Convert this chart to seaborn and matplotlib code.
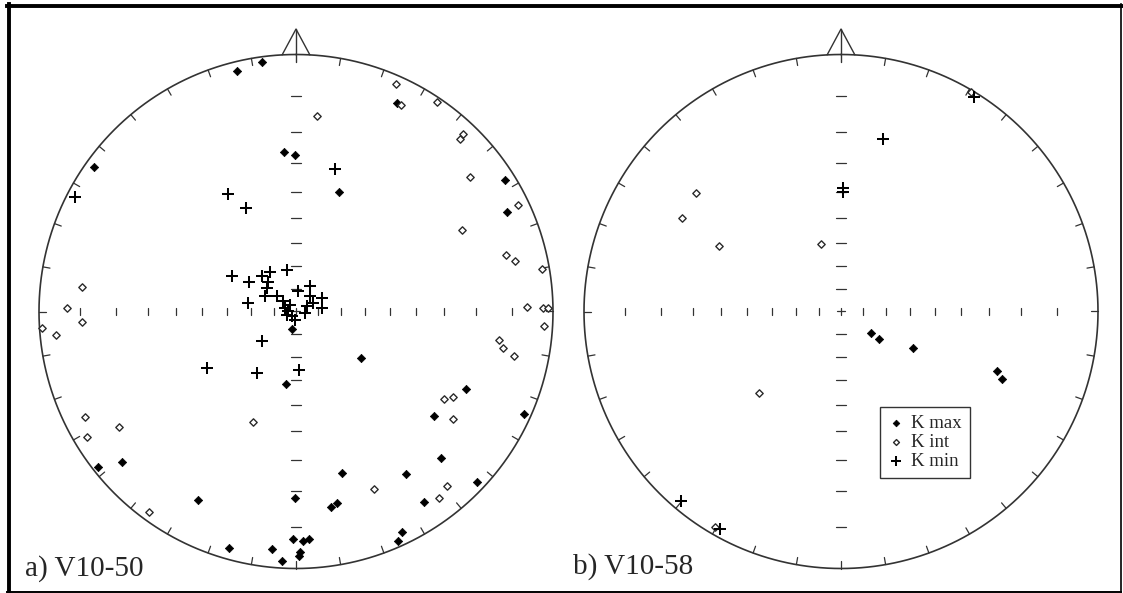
import numpy as np
import matplotlib
matplotlib.use("Agg")
import matplotlib.pyplot as plt
from matplotlib.lines import Line2D
import seaborn as sns

# ---------------- data: projected (east, north) positions on the unit primitive circle
# (equal-angle / stereographic lower-hemisphere projection)
# a) V10-50
kmax_a_east = [-0.133, -0.231, -0.786, -0.047, -0.004, 0.394, 0.168, 0.813, 0.820,
               -0.017, -0.039, -0.769, -0.678, -0.380, -0.002, -0.260, -0.092, -0.053,
               -0.011, 0.028, 0.052, 0.016, 0.013, 0.252, 0.661, 0.537, 0.887, 0.563,
               0.178, 0.427, 0.703, 0.135, 0.158, 0.499, 0.411, 0.398]
kmax_a_north = [0.970, 0.936, 0.561, 0.619, 0.609, 0.812, 0.464, 0.512, 0.388,
                -0.069, -0.282, -0.604, -0.584, -0.733, -0.726, -0.921, -0.925, -0.971,
                -0.885, -0.893, -0.886, -0.935, -0.950, -0.180, -0.303, -0.405, -0.399,
                -0.569, -0.627, -0.633, -0.665, -0.762, -0.746, -0.742, -0.857, -0.892]
kint_a_east = [0.389, 0.409, 0.547, 0.083, 0.637, 0.649, 0.677, 0.865, 0.645, 0.816,
               0.852, 0.958, 0.898, 0.962, 0.982, 0.965, 0.790, 0.807, 0.848, 0.576,
               0.612, 0.610, 0.304, 0.586, 0.556, -0.168, -0.572, -0.821, -0.688,
               -0.814, -0.892, -0.832, -0.987, -0.934, -0.834]
kint_a_north = [0.885, 0.804, 0.814, 0.761, 0.672, 0.691, 0.522, 0.416, 0.317, 0.220,
                0.198, 0.167, 0.016, 0.015, 0.015, -0.055, -0.111, -0.143, -0.173,
                -0.342, -0.334, -0.419, -0.692, -0.679, -0.727, -0.431, -0.781, -0.409,
                -0.451, -0.487, 0.012, -0.040, -0.065, -0.091, 0.094]
kmin_a_east = [-0.860, -0.266, -0.196, 0.152, -0.131, -0.347, -0.153, 0.013,
               -0.248, -0.183, -0.101, -0.131, -0.036, -0.108, -0.114, -0.121, -0.186,
               -0.075, -0.049, -0.043, -0.036, -0.017, -0.004, 0.009, 0.054, 0.054,
               0.042, 0.100, 0.100, 0.035, 0.067, -0.031, -0.023]
kmin_a_north = [0.447, 0.456, 0.404, 0.554, -0.115, -0.221, -0.240, -0.228,
                0.137, 0.115, 0.154, 0.137, 0.163, 0.115, 0.091, 0.059, 0.033,
                0.059, 0.040, 0.014, -0.012, -0.019, -0.032, 0.079, 0.098, 0.059,
                0.020, 0.053, 0.014, -0.006, 0.033, 0.002, 0.025]

# b) V10-58
kmax_b_east = [0.117, 0.146, 0.281, 0.607, 0.625]
kmax_b_north = [-0.085, -0.106, -0.143, -0.230, -0.264]
kint_b_east = [-0.565, -0.619, -0.475, -0.078, -0.321, 0.506, -0.490]
kint_b_north = [0.460, 0.365, 0.256, 0.263, -0.316, 0.854, -0.839]
kmin_b_east = [0.516, 0.164, 0.006, 0.006, -0.621, -0.469]
kmin_b_north = [0.833, 0.670, 0.481, 0.465, -0.736, -0.846]

panel_titles = ["a) V10-50", "b) V10-58"]
legend_labels = ["K max", "K int", "K min"]
tick_angles = list(range(10, 360, 10))   # circumference ticks, degrees
dip_ticks = list(range(10, 90, 10))      # diameter ticks, degrees from centre

# ---------------- styling
sns.set_style("white")
plt.rcParams["font.family"] = ["Liberation Serif", "DejaVu Serif"]

W, H = 1123, 593
fig = plt.figure(figsize=(W / 100, H / 100), dpi=100)
fig.patch.set_facecolor("white")

R = 257.0
centers = [(296.0, 311.5), (841.0, 311.5)]
XL = (-1.08, 1.08)
YL = (-1.07, 1.14)
GRID = "#333333"

panels = [
    (kmax_a_east, kmax_a_north, kint_a_east, kint_a_north, kmin_a_east, kmin_a_north),
    (kmax_b_east, kmax_b_north, kint_b_east, kint_b_north, kmin_b_east, kmin_b_north),
]

axes = []
for (cx, cy), data in zip(centers, panels):
    left = (cx + XL[0] * R) / W
    width = (XL[1] - XL[0]) * R / W
    bottom = (H - (cy - YL[0] * R)) / H
    height = (YL[1] - YL[0]) * R / H
    ax = fig.add_axes([left, bottom, width, height])
    ax.set_xlim(XL)
    ax.set_ylim(YL)
    ax.set_axis_off()
    axes.append(ax)

    # primitive circle
    t = np.linspace(0, 2 * np.pi, 721)
    ax.plot(np.sin(t), np.cos(t), color=GRID, lw=1.2, zorder=1)
    # circumference ticks
    for a in tick_angles:
        r = np.radians(a)
        ax.plot([np.sin(r), 0.972 * np.sin(r)], [np.cos(r), 0.972 * np.cos(r)],
                color=GRID, lw=0.9, zorder=1)
    # diameter ticks (equal-angle spacing)
    h = 0.015
    for d in dip_ticks:
        rr = np.tan(np.radians(d) / 2)
        for s in (-1, 1):
            ax.plot([s * rr, s * rr], [-h, h], color=GRID, lw=0.9, zorder=1)
            ax.plot([-h * 1.25, h * 1.25], [s * rr, s * rr], color=GRID, lw=0.9, zorder=1)
    ax.plot([-h, h], [0, 0], color=GRID, lw=0.9, zorder=1)
    ax.plot([0, 0], [-h, h], color=GRID, lw=0.9, zorder=1)
    # north arrow
    ax.plot([-0.054, 0, 0.054], [0.9985, 1.099, 0.9985], color=GRID, lw=1.0, zorder=1)
    ax.plot([0, 0], [1.099, 0.972], color=GRID, lw=1.0, zorder=1)

    kx, ky, ix, iy, nx, ny = data
    sns.scatterplot(x=kx, y=ky, marker="D", s=18, color="black", edgecolor="black",
                    linewidth=0.5, ax=ax, label=legend_labels[0], zorder=3)
    sns.scatterplot(x=ix, y=iy, marker="D", s=14, color="white", edgecolor="#2a2a2a",
                    linewidth=1.0, ax=ax, label=legend_labels[1], zorder=3)
    sns.scatterplot(x=nx, y=ny, marker="+", s=85, color="black", linewidth=1.45,
                    ax=ax, label=legend_labels[2], zorder=4)
    if ax.get_legend() is not None:
        ax.get_legend().remove()
    ax.set_xlim(XL)
    ax.set_ylim(YL)

# legend on panel b
handles, labels = axes[1].get_legend_handles_labels()
leg = axes[1].legend(handles, labels, loc="upper left",
                     bbox_to_anchor=(879.6 / W, 1 - 406.7 / H),
                     bbox_transform=fig.transFigure, borderaxespad=0,
                     frameon=True, fancybox=False, framealpha=1, edgecolor="#333333",
                     prop={"family": ["Liberation Serif"], "size": 13.5},
                     handlelength=0.9, handletextpad=0.3, borderpad=0.45,
                     labelspacing=0.08, markerscale=0.8)
leg.get_frame().set_linewidth(1.0)

# panel labels
fig.text(25 / W, 1 - 576 / H, panel_titles[0], fontsize=21, ha="left", va="baseline")
fig.text(572.6 / W, 1 - 574 / H, panel_titles[1], fontsize=21, ha="left", va="baseline")

# outer frame
def px_line(x0, y0, x1, y1, lw):
    fig.add_artist(Line2D([x0 / W, x1 / W], [1 - y0 / H, 1 - y1 / H],
                          transform=fig.transFigure, color="black", lw=lw,
                          solid_capstyle="projecting"))
px_line(8.5, 4, 8.5, 592, 2.8)
px_line(7, 5.5, 1123, 5.5, 2.8)
px_line(7, 591.5, 1121, 591.5, 1.4)
px_line(1121, 4, 1121, 592, 1.2)

fig.savefig("out.png", dpi=100, facecolor="white")
